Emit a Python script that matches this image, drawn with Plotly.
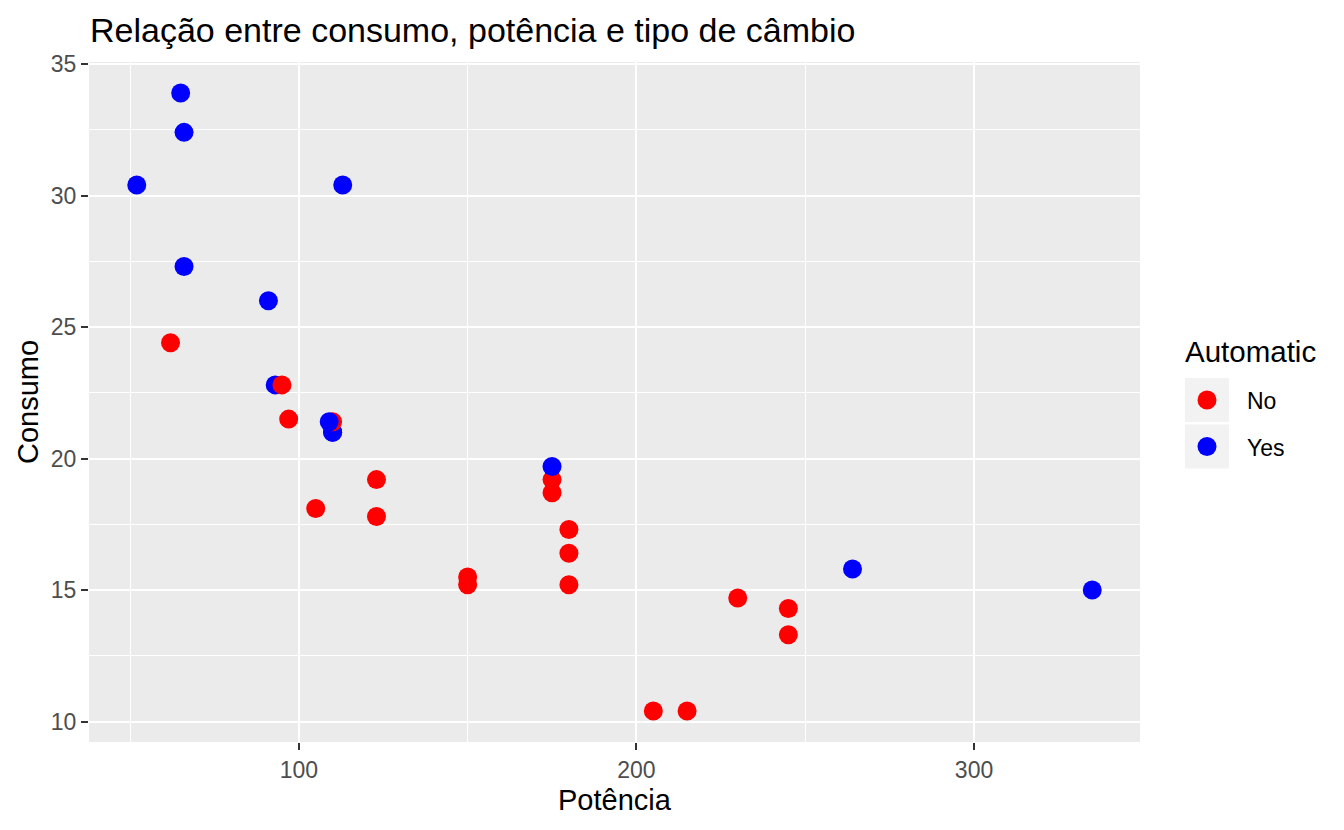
import plotly.graph_objects as go

# mtcars: hp, mpg and am flag (drawn in data order like ggplot)
hp = [110, 110, 93, 110, 175, 105, 245, 62, 95, 123, 123, 180, 180, 180, 205, 215,
      230, 66, 52, 65, 97, 150, 150, 245, 175, 66, 91, 113, 264, 175, 335, 109]
mpg = [21.0, 21.0, 22.8, 21.4, 18.7, 18.1, 14.3, 24.4, 22.8, 19.2, 17.8, 16.4, 17.3,
       15.2, 10.4, 10.4, 14.7, 32.4, 30.4, 33.9, 21.5, 15.5, 15.2, 13.3, 19.2, 27.3,
       26.0, 30.4, 15.8, 19.7, 15.0, 21.4]
automatic = ["Yes", "Yes", "Yes", "No", "No", "No", "No", "No", "No", "No", "No", "No",
             "No", "No", "No", "No", "No", "Yes", "Yes", "Yes", "No", "No", "No", "No",
             "No", "Yes", "Yes", "Yes", "Yes", "Yes", "Yes", "Yes"]
levels = ["No", "Yes"]
colors = {"No": "#FF0000", "Yes": "#0000FF"}

x_ticks = [100, 200, 300]
y_ticks = [10, 15, 20, 25, 30, 35]

# page has an 8px body margin, so the figure is shrunk and shifted by that
OFF = 8
W, H = 1344 - OFF, 830 - OFF
L, R, T, B = 89 - OFF, 204, 62 - OFF, 88
FONT = "Liberation Sans, Arial, sans-serif"


def px_x(p):
    # window pixel -> paper x
    return (p - OFF - L) / (W - L - R)


def px_y(p):
    # window pixel -> paper y
    return (H - B - (p - OFF)) / (H - T - B)


fig = go.Figure()
fig.add_trace(go.Scatter(
    x=hp, y=mpg, mode="markers",
    marker=dict(size=19, color=[colors[a] for a in automatic], line=dict(width=0)),
    showlegend=False, hoverinfo="x+y",
))

# x / y range with ggplot's 5% expansion
xr = max(hp) - min(hp)
yr = max(mpg) - min(mpg)

shapes = []
annotations = []

# legend built by hand (ggplot style)
annotations.append(dict(text="Automatic", x=px_x(1183), y=px_y(351), xref="paper", yref="paper",
                        xanchor="left", yanchor="middle", showarrow=False,
                        font=dict(family=FONT, size=29.5, color="black")))
for i, lev in enumerate(levels):
    cy = 400 + i * 46.5
    shapes.append(dict(type="rect", xref="paper", yref="paper",
                       x0=px_x(1185), x1=px_x(1229), y0=px_y(cy - 22), y1=px_y(cy + 22),
                       fillcolor="#F2F2F2", line=dict(width=0), layer="below"))
    shapes.append(dict(type="circle", xref="paper", yref="paper",
                       xsizemode="pixel", ysizemode="pixel",
                       xanchor=px_x(1207), yanchor=px_y(cy),
                       x0=-9.5, x1=9.5, y0=-9.5, y1=9.5,
                       fillcolor=colors[lev], line=dict(width=0)))
    annotations.append(dict(text=lev, x=px_x(1245), y=px_y(cy + 1), xref="paper", yref="paper",
                            xanchor="left", yanchor="middle", showarrow=False,
                            font=dict(family=FONT, size=23, color="black")))

# axis titles
annotations.append(dict(text="Potência", x=0.5, y=px_y(800), xref="paper", yref="paper",
                        xanchor="center", yanchor="middle", showarrow=False,
                        font=dict(family=FONT, size=29, color="black")))
annotations.append(dict(text="Consumo", x=px_x(28), y=0.5, xref="paper", yref="paper",
                        xanchor="center", yanchor="middle", showarrow=False, textangle=-90,
                        font=dict(family=FONT, size=29, color="black")))

axis_common = dict(
    showgrid=True, gridcolor="white", gridwidth=2,
    zeroline=False, showline=False,
    ticks="outside", ticklen=7, tickwidth=2, tickcolor="#333333",
    tickfont=dict(family=FONT, size=23, color="#4D4D4D"),
)

fig.update_layout(
    width=W, height=H,
    margin=dict(l=L, r=R, t=T, b=B),
    paper_bgcolor="white", plot_bgcolor="#EBEBEB",
    title=dict(text="Relação entre consumo, potência e tipo de câmbio",
               x=(90 - OFF) / W, xanchor="left", xref="container",
               y=1 - (30 - OFF) / H, yanchor="middle", yref="container",
               font=dict(family=FONT, size=34, color="black")),
    xaxis=dict(range=[min(hp) - 0.05 * xr, max(hp) + 0.05 * xr],
               tickvals=x_ticks, ticktext=[str(v) for v in x_ticks],
               minor=dict(tickvals=[50, 150, 250], showgrid=True, gridcolor="white",
                          gridwidth=1, ticks=""),
               **axis_common),
    yaxis=dict(range=[min(mpg) - 0.05 * yr, max(mpg) + 0.05 * yr],
               tickvals=y_ticks, ticktext=[str(v) for v in y_ticks],
               minor=dict(tickvals=[12.5, 17.5, 22.5, 27.5, 32.5], showgrid=True,
                          gridcolor="white", gridwidth=1, ticks=""),
               **axis_common),
    shapes=shapes,
    annotations=annotations,
    showlegend=False,
)

fig.write_html("out.html")
